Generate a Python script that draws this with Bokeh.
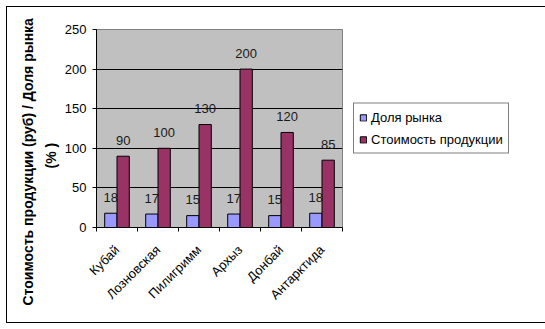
import math
from bokeh.plotting import figure
from bokeh.models import ColumnDataSource, Range1d, FixedTicker, LabelSet, Legend, LegendItem, Title
from bokeh.transform import dodge
from bokeh.embed import file_html
from bokeh.resources import INLINE
from bokeh.core.properties import value

categories = ["Кубай", "Лозновская", "Пилигримм", "Архыз", "Донбай", "Антарктида"]
market_share = [18, 17, 15, 17, 15, 18]
product_cost = [90, 100, 130, 200, 120, 85]
series_names = ["Доля рынка", "Стоимость продукции"]
y_ticks = [0, 50, 100, 150, 200, 250]
y_title_lines = ["Стоимость продукции (руб) / Доля рынка", "(% )"]

FONT = "Liberation Sans"
n = len(categories)
centers = [i + 0.5 for i in range(n)]
src = ColumnDataSource(dict(
    x=centers, cat=categories, share=market_share, cost=product_cost,
    share_lbl=[str(v) for v in market_share], cost_lbl=[str(v) for v in product_cost]))

p = figure(frame_width=246, frame_height=198,
           min_border_left=89, min_border_right=173, min_border_top=22, min_border_bottom=95,
           x_range=Range1d(0, n), y_range=Range1d(y_ticks[0], y_ticks[-1]),
           output_backend="svg", toolbar_location=None,
           margin=(6, 0, 0, 6), styles={"border": "1px solid black"})
p.background_fill_color = "#C0C0C0"
p.border_fill_color = "white"
p.outline_line_color = "#808080"

b1 = p.vbar(x=dodge('x', -0.15, range=p.x_range), top='share', width=0.3, source=src,
            fill_color="#9999FF", line_color="black", line_width=1)
b2 = p.vbar(x=dodge('x', 0.15, range=p.x_range), top='cost', width=0.3, source=src,
            fill_color="#993366", line_color="black", line_width=1)

for col, lbl, off in (("share", "share_lbl", -0.15), ("cost", "cost_lbl", 0.15)):
    ls = LabelSet(x=dodge('x', off, range=p.x_range), y=col, text=lbl, source=src,
                  y_offset=16, text_align="center", text_baseline="middle",
                  text_font=value(FONT), text_font_size="13px", text_color="#1a1a1a")
    p.add_layout(ls)

# x axis
p.xaxis.ticker = FixedTicker(ticks=centers, minor_ticks=list(range(n + 1)))
p.xaxis.major_label_overrides = {c: cat for c, cat in zip(centers, categories)}
p.xaxis.major_tick_line_color = None
p.xaxis.minor_tick_line_color = "black"
p.xaxis.minor_tick_out = 4
p.xaxis.minor_tick_in = 0
p.xaxis.major_label_orientation = math.pi / 4
p.xaxis.major_label_standoff = 14
p.xaxis.major_label_text_font = FONT
p.xaxis.major_label_text_font_size = "13px"
p.xaxis.major_label_text_color = "black"
p.xaxis.axis_line_color = "black"

# y axis
p.yaxis.ticker = FixedTicker(ticks=y_ticks)
p.yaxis.major_tick_out = 4
p.yaxis.major_tick_in = 0
p.yaxis.minor_tick_line_color = None
p.yaxis.major_label_text_font = FONT
p.yaxis.major_label_text_font_size = "13px"
p.yaxis.major_label_text_color = "black"
p.yaxis.major_label_standoff = 6
p.yaxis.axis_line_color = "black"

for line, off, so in zip(reversed(y_title_lines), (59, -78), (6, 3)):
    t = Title(text=line, align="left", offset=off, standoff=so,
              text_font=FONT, text_font_size="14px", text_font_style="bold",
              text_color="black")
    p.add_layout(t, "left")

p.xgrid.visible = False
p.ygrid.ticker = FixedTicker(ticks=y_ticks[1:-1])
p.ygrid.grid_line_color = "black"
p.ygrid.grid_line_alpha = 1

legend = Legend(items=[LegendItem(label=series_names[0], renderers=[b1]),
                       LegendItem(label=series_names[1], renderers=[b2])],
                location="center_left", orientation="vertical",
                border_line_color="black", border_line_width=1, background_fill_color="white",
                background_fill_alpha=1,
                label_text_font=FONT, label_text_font_size="13px", label_text_color="black",
                glyph_width=8, glyph_height=8, label_standoff=4, padding=5, spacing=5,
                label_height=17, margin=11)
p.add_layout(legend, "right")

open("out.html", "w").write(file_html(p, INLINE))
